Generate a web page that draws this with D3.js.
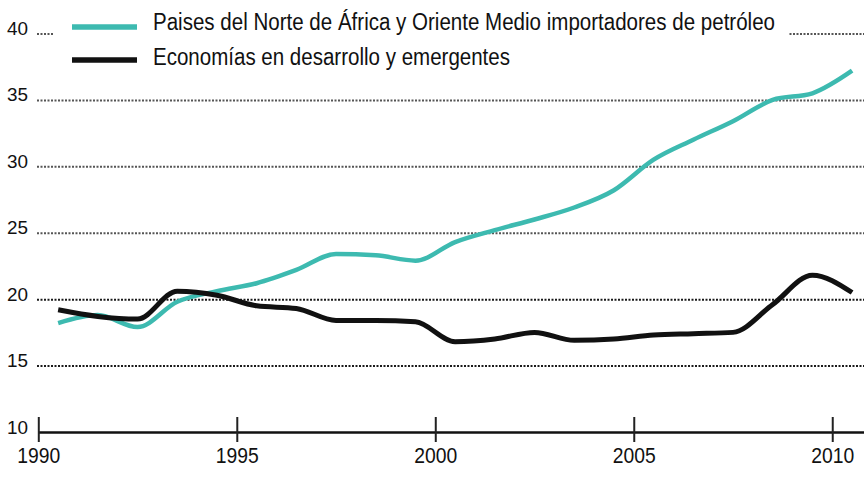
<!DOCTYPE html>
<html>
<head>
<meta charset="utf-8">
<script src="https://cdn.jsdelivr.net/npm/d3@7"></script>
<style>
  html, body { margin: 0; padding: 0; background: #fff; }
  svg { display: block; }
  text { font-family: "Liberation Sans Narrow", "Liberation Sans", Arial, sans-serif; fill: #111; }
</style>
</head>
<body>
<div id="chart"></div>
<script>
// data (mid-year points)
const years = [1990.5, 1991.5, 1992.5, 1993.5, 1994.5, 1995.5, 1996.5, 1997.5, 1998.5, 1999.5,
  2000.5, 2001.5, 2002.5, 2003.5, 2004.5, 2005.5, 2006.5, 2007.5, 2008.5, 2009.5, 2010.5];
const menaImporters = [18.2, 18.8, 17.9, 19.8, 20.6, 21.2, 22.2, 23.4, 23.3, 22.9,
  24.3, 25.2, 26.0, 26.9, 28.2, 30.5, 32.0, 33.4, 35.0, 35.5, 37.2];
const emerging = [19.2, 18.7, 18.5, 20.6, 20.3, 19.5, 19.3, 18.4, 18.4, 18.3,
  16.8, 17.0, 17.5, 16.9, 17.0, 17.3, 17.4, 17.5, 19.6, 21.8, 20.5];
const seriesNames = ['Paises del Norte de África y Oriente Medio importadores de petróleo',
  'Economías en desarrollo y emergentes'];
const yTicks = [10, 15, 20, 25, 30, 35, 40];
const xTicks = [1990, 1995, 2000, 2005, 2010];

const width = 864;
const height = 478;
const teal = '#3dbab0';

const x = d3.scaleLinear().domain([1990, 2010.8]).range([38.3, 864]);
const y = d3.scaleLinear().domain([10, 40]).range([432, 33.5]);

const svg = d3.select('#chart')
  .append('svg')
  .attr('width', width)
  .attr('height', height);

// y grid + labels
const yAxis = svg.append('g')
  .attr('transform', 'translate(37,0)')
  .call(d3.axisLeft(y).tickValues(yTicks).tickSize(-(width - 37)).tickPadding(9));
yAxis.select('.domain').remove();
yAxis.selectAll('.tick line')
  .attr('stroke', d => d >= 25 ? '#555' : '#1a1a1a')
  .attr('stroke-width', 2)
  .attr('stroke-dasharray', '2,1.5')
  .attr('opacity', d => d === 10 ? 0 : 1);
yAxis.selectAll('.tick text')
  .attr('dy', 0)
  .attr('y', 1)
  .attr('textLength', 21)
  .attr('lengthAdjust', 'spacingAndGlyphs')
  .style('font-size', '18px');

// x axis
const xAxis = svg.append('g')
  .attr('transform', `translate(0,${y(10)})`)
  .call(d3.axisBottom(x).tickValues(xTicks).tickFormat(d3.format('d')).tickSizeOuter(0));
xAxis.select('.domain').attr('stroke', '#111').attr('stroke-width', 2.5);
xAxis.selectAll('.tick line')
  .attr('y1', -15)
  .attr('y2', 10)
  .attr('stroke', '#222')
  .attr('stroke-width', 2);
xAxis.selectAll('.tick text')
  .attr('dy', 0)
  .attr('y', 31)
  .attr('textLength', 43)
  .attr('lengthAdjust', 'spacingAndGlyphs')
  .style('font-size', '22px');

// lines
const line = d3.line()
  .x((d, i) => x(years[i]))
  .y(d => y(d))
  .curve(d3.curveMonotoneX);

svg.append('path')
  .datum(menaImporters)
  .attr('fill', 'none')
  .attr('stroke', teal)
  .attr('stroke-width', 4.5)
  .attr('d', line);

svg.append('path')
  .datum(emerging)
  .attr('fill', 'none')
  .attr('stroke', '#111')
  .attr('stroke-width', 5)
  .attr('d', line);

// legend (sits over the 40 gridline)
const legend = svg.append('g');
legend.append('rect')
  .attr('x', 53).attr('y', 8)
  .attr('width', 735).attr('height', 60)
  .attr('fill', '#fff');

const legendColors = [teal, '#111'];
const legendLengths = [622, 357];
seriesNames.forEach((name, i) => {
  const ly = 27 + i * 33;
  legend.append('line')
    .attr('x1', 72).attr('x2', 137)
    .attr('y1', ly).attr('y2', ly)
    .attr('stroke', legendColors[i])
    .attr('stroke-width', 5.5);
  legend.append('text')
    .attr('x', 153)
    .attr('y', ly + 3 + i * 2)
    .attr('textLength', legendLengths[i])
    .attr('lengthAdjust', 'spacingAndGlyphs')
    .style('font-size', '23px')
    .text(name);
});
</script>
</body>
</html>
